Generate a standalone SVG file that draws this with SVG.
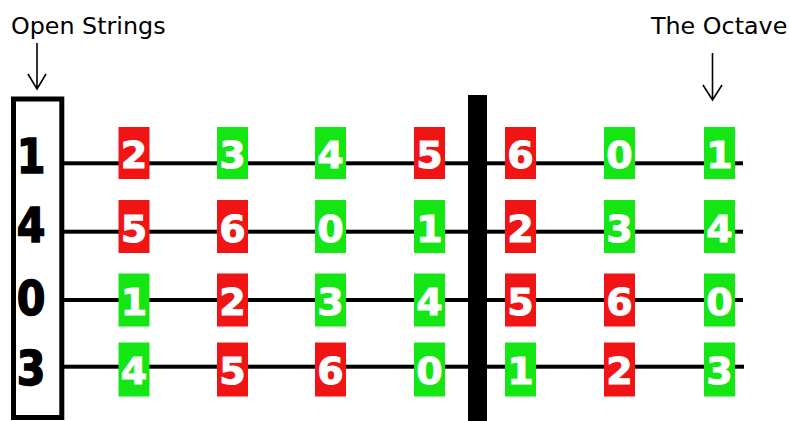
<svg xmlns="http://www.w3.org/2000/svg" width="789" height="421" viewBox="0 0 789 421">
<style>
.lbl{font-family:"DejaVu Sans","Verdana",sans-serif;font-size:23.8px;fill:#000}
.open{font-family:"DejaVu Sans","Verdana",sans-serif;font-weight:bold;font-size:48px;fill:#000;stroke:#000;stroke-width:1.6;text-anchor:middle}
.n{font-family:"DejaVu Sans","Verdana",sans-serif;font-weight:bold;font-size:38px;fill:#fff;stroke:#fff;stroke-width:1;text-anchor:middle}
.r{fill:#f01414}
.g{fill:#14e614}
.arr{stroke:#000;stroke-width:1.6;fill:none}
</style>
<rect width="789" height="421" fill="#fff"/>
<g id="open-label"><text class="lbl" x="11" y="34">Open Strings</text></g>
<g id="octave-label"><text class="lbl" x="651" y="34">The Octave</text></g>
<g id="connectors">
<path class="arr" d="M37 43V89M28 74L37 89L46 74"/>
<path class="arr" d="M712.5 53V100M703 85L712.5 100L722 85"/>
</g>
<g id="strings" fill="#000">
<rect x="62" y="161.3" width="681" height="4"/>
<rect x="62" y="229.7" width="681" height="4"/>
<rect x="62" y="298" width="681" height="4"/>
<rect x="62" y="364.7" width="682" height="4"/>
</g>
<g id="nut">
<rect x="13.5" y="99" width="48.3" height="318.5" fill="none" stroke="#000" stroke-width="5"/>
<g transform="translate(31,0) scale(0.86,1)">
<text class="open" x="0" y="173">1</text>
<text class="open" x="0" y="242">4</text>
<text class="open" x="0" y="315">0</text>
<text class="open" x="0" y="385">3</text>
</g>
</g>
<g id="fret"><rect x="468" y="95" width="19" height="326" fill="#000"/></g>
<g id="row1">
<g id="r1c1"><rect class="r" x="118.5" y="127" width="31" height="52"/><text class="n" x="134" y="168">2</text></g>
<g id="r1c2"><rect class="g" x="217" y="127" width="31" height="52"/><text class="n" x="232.5" y="168">3</text></g>
<g id="r1c3"><rect class="g" x="315" y="127" width="31" height="52"/><text class="n" x="330.5" y="168">4</text></g>
<g id="r1c4"><rect class="r" x="414" y="127" width="31" height="52"/><text class="n" x="429.5" y="168">5</text></g>
<g id="r1c5"><rect class="r" x="505" y="127" width="31" height="52"/><text class="n" x="520.5" y="168">6</text></g>
<g id="r1c6"><rect class="g" x="604" y="127" width="31" height="52"/><text class="n" x="619.5" y="168">0</text></g>
<g id="r1c7"><rect class="g" x="704" y="127" width="31" height="52"/><text class="n" x="719.5" y="168">1</text></g>
</g>
<g id="row2">
<g id="r2c1"><rect class="r" x="118.5" y="200" width="31" height="53"/><text class="n" x="134" y="242">5</text></g>
<g id="r2c2"><rect class="r" x="217" y="200" width="31" height="53"/><text class="n" x="232.5" y="242">6</text></g>
<g id="r2c3"><rect class="g" x="315" y="200" width="31" height="53"/><text class="n" x="330.5" y="242">0</text></g>
<g id="r2c4"><rect class="g" x="414" y="200" width="31" height="53"/><text class="n" x="429.5" y="242">1</text></g>
<g id="r2c5"><rect class="r" x="505" y="200" width="31" height="53"/><text class="n" x="520.5" y="242">2</text></g>
<g id="r2c6"><rect class="g" x="604" y="200" width="31" height="53"/><text class="n" x="619.5" y="242">3</text></g>
<g id="r2c7"><rect class="g" x="704" y="200" width="31" height="53"/><text class="n" x="719.5" y="242">4</text></g>
</g>
<g id="row3">
<g id="r3c1"><rect class="g" x="118.5" y="273.5" width="31" height="53"/><text class="n" x="134" y="315">1</text></g>
<g id="r3c2"><rect class="r" x="217" y="273.5" width="31" height="53"/><text class="n" x="232.5" y="315">2</text></g>
<g id="r3c3"><rect class="g" x="315" y="273.5" width="31" height="53"/><text class="n" x="330.5" y="315">3</text></g>
<g id="r3c4"><rect class="g" x="414" y="273.5" width="31" height="53"/><text class="n" x="429.5" y="315">4</text></g>
<g id="r3c5"><rect class="r" x="505" y="273.5" width="31" height="53"/><text class="n" x="520.5" y="315">5</text></g>
<g id="r3c6"><rect class="r" x="604" y="273.5" width="31" height="53"/><text class="n" x="619.5" y="315">6</text></g>
<g id="r3c7"><rect class="g" x="704" y="273.5" width="31" height="53"/><text class="n" x="719.5" y="315">0</text></g>
</g>
<g id="row4">
<g id="r4c1"><rect class="g" x="118.5" y="342.5" width="31" height="54"/><text class="n" x="134" y="384">4</text></g>
<g id="r4c2"><rect class="r" x="217" y="342.5" width="31" height="54"/><text class="n" x="232.5" y="384">5</text></g>
<g id="r4c3"><rect class="r" x="315" y="342.5" width="31" height="54"/><text class="n" x="330.5" y="384">6</text></g>
<g id="r4c4"><rect class="g" x="414" y="342.5" width="31" height="54"/><text class="n" x="429.5" y="384">0</text></g>
<g id="r4c5"><rect class="g" x="505" y="342.5" width="31" height="54"/><text class="n" x="520.5" y="384">1</text></g>
<g id="r4c6"><rect class="r" x="604" y="342.5" width="31" height="54"/><text class="n" x="619.5" y="384">2</text></g>
<g id="r4c7"><rect class="g" x="704" y="342.5" width="31" height="54"/><text class="n" x="719.5" y="384">3</text></g>
</g>
</svg>
